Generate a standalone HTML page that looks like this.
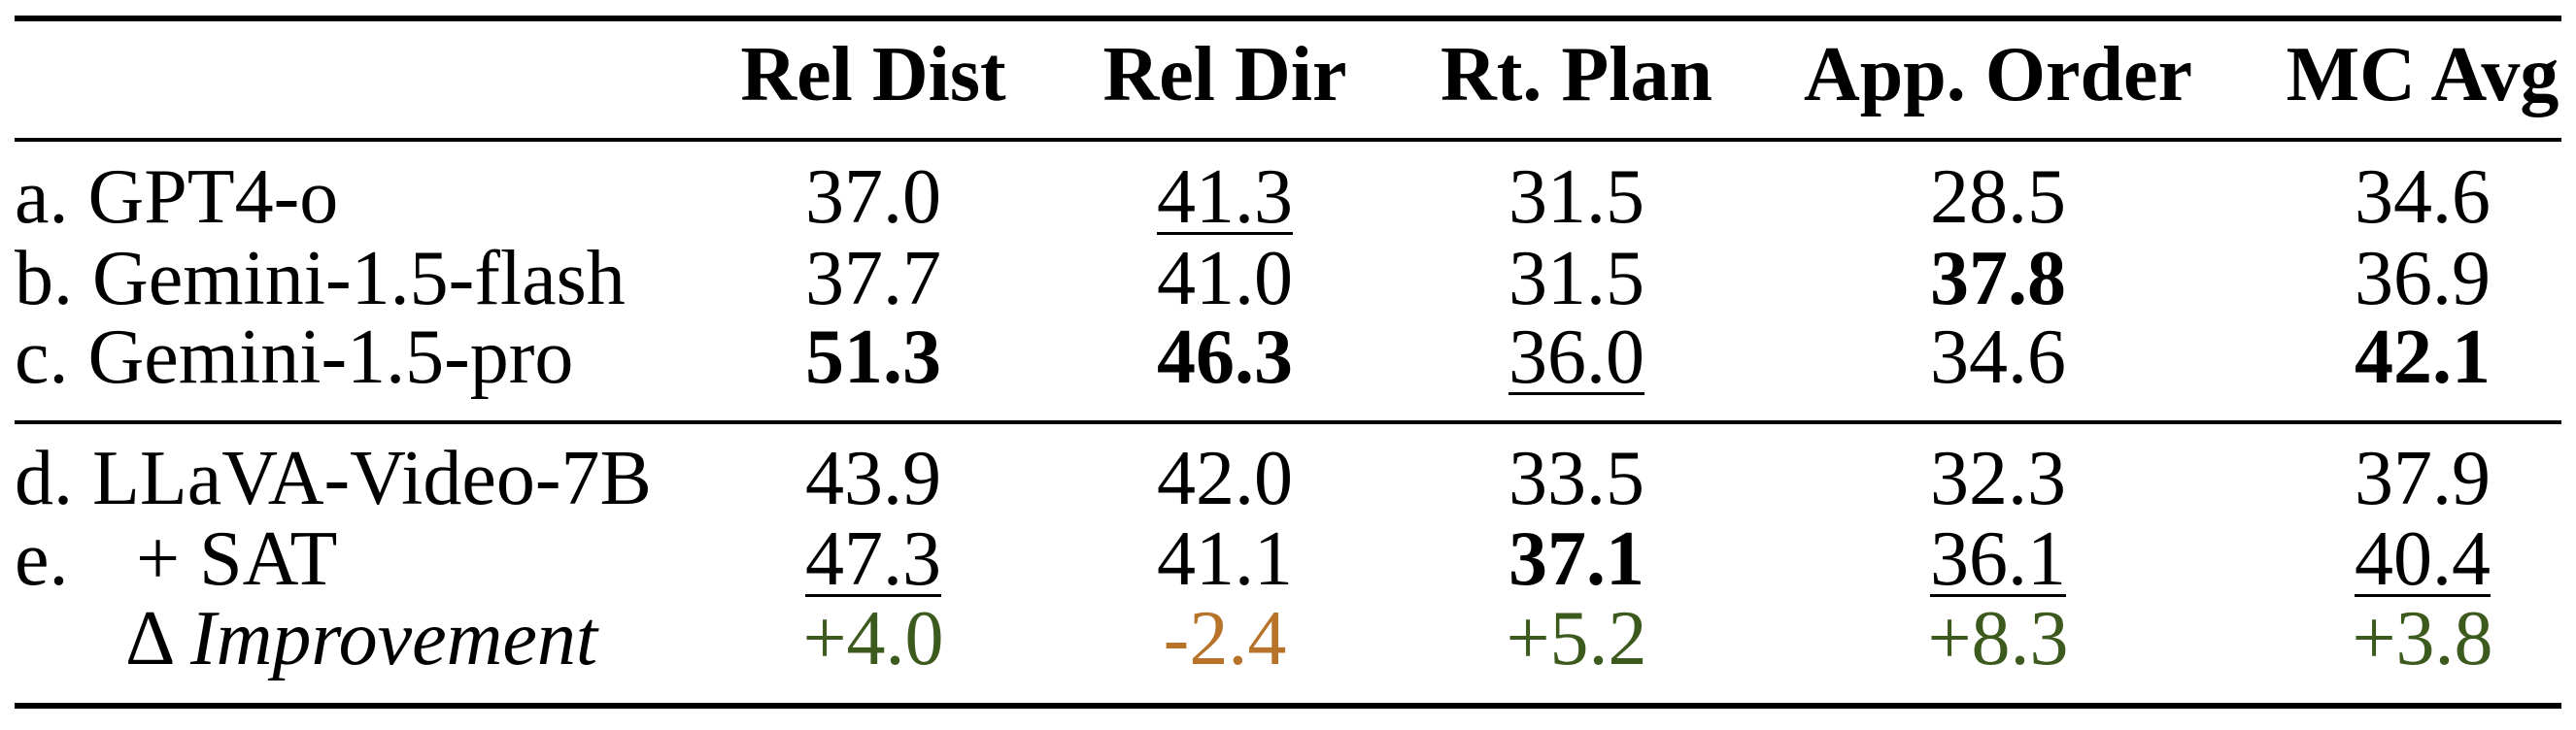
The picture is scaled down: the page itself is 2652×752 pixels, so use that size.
<!DOCTYPE html>
<html><head><meta charset="utf-8">
<style>
html,body{margin:0;padding:0;background:#fff;}
svg{display:block;}
text{font-family:"Liberation Serif",serif;font-size:80px;fill:#000;}
</style></head>
<body>
<svg id="tbl" width="2652" height="752" viewBox="0 0 2652 752" xmlns="http://www.w3.org/2000/svg">
<rect x="15" y="16" width="2622" height="6" fill="#000"/>
<rect x="15" y="142" width="2622" height="4" fill="#000"/>
<rect x="15" y="433" width="2622" height="4" fill="#000"/>
<rect x="15" y="724" width="2622" height="6" fill="#000"/>
<g id="body"></g>
</svg>
<script>
const columns = ["Rel Dist","Rel Dir","Rt. Plan","App. Order","MC Avg"];
const rowLabels = ["a. GPT4-o","b. Gemini-1.5-flash","c. Gemini-1.5-pro","d. LLaVA-Video-7B"];
const rowGPT = ["37.0","41.3","31.5","28.5","34.6"];
const rowFlash = ["37.7","41.0","31.5","37.8","36.9"];
const rowPro = ["51.3","46.3","36.0","34.6","42.1"];
const rowLLaVA = ["43.9","42.0","33.5","32.3","37.9"];
const rowSAT = ["47.3","41.1","37.1","36.1","40.4"];
const rowDelta = ["+4.0","-2.4","+5.2","+8.3","+3.8"];
// style flags: b = bold, u = underline
const fmtGPT = ["","u","","",""];
const fmtFlash = ["","","","b",""];
const fmtPro = ["b","b","u","","b"];
const fmtLLaVA = ["","","","",""];
const fmtSAT = ["u","","b","u","u"];

const NS="http://www.w3.org/2000/svg";
const g=document.getElementById('body');
const colX=[899,1261,1623,2057,2494];
const rowY=[229,313,394,519,602,684];
function txt(x,y,s,anchor,style){
  const t=document.createElementNS(NS,'text');
  t.setAttribute('x',x);t.setAttribute('y',y);
  t.setAttribute('text-anchor',anchor);
  if(style)t.setAttribute('style',style);
  t.textContent=s;g.appendChild(t);return t;
}
columns.forEach((c,i)=>{
  const t=txt(colX[i],103,c,'middle','font-weight:bold');
  
  
});
rowLabels.forEach((l,i)=>{
  const t=txt(15,rowY[i],l,'start');
  
  
});
let t=txt(15,rowY[4],'e.','start');


t=txt(140,rowY[4],'+ SAT','start');


t=txt(129,rowY[5],'Δ','start');


t=txt(196,rowY[5],'Improvement','start','font-style:italic');



const rows=[rowGPT,rowFlash,rowPro,rowLLaVA,rowSAT];
const fmts=[fmtGPT,fmtFlash,fmtPro,fmtLLaVA,fmtSAT];
rows.forEach((r,ri)=>{
  r.forEach((v,ci)=>{
    const f=fmts[ri][ci];
    const c=txt(colX[ci],rowY[ri],v,'middle',f==='b'?'font-weight:bold':null);
    
    
    if(f==='u'){
      const w=c.getComputedTextLength();
      const ln=document.createElementNS(NS,'rect');
      ln.setAttribute('x',colX[ci]-w/2);ln.setAttribute('y',rowY[ri]+10);
      ln.setAttribute('width',w);ln.setAttribute('height',3);ln.setAttribute('fill','#000');
      
      
      g.appendChild(ln);
    }
  });
});
rowDelta.forEach((v,ci)=>{
  const c=txt(colX[ci],rowY[5],v,'middle','fill:'+(v.startsWith('-')?'#b8732a':'#3d5a1e'));
  
  
});
</script>
</body></html>
